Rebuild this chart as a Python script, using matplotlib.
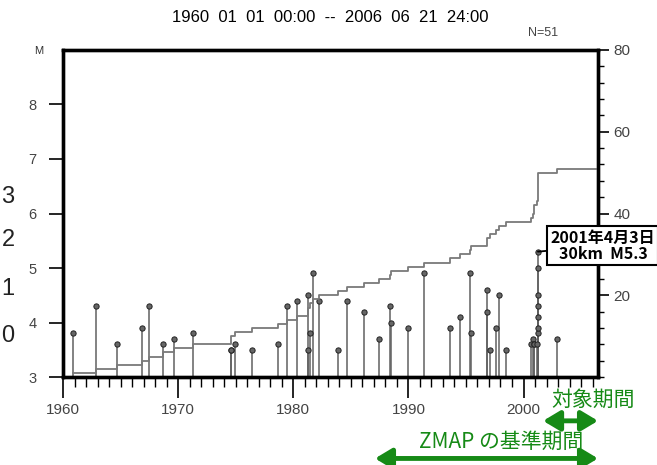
import matplotlib.pyplot as plt
from matplotlib.ticker import MultipleLocator

plt.rcParams['font.family'] = ['Liberation Sans', 'DejaVu Sans']

# event times (decimal year) and magnitudes
years = [1960.90, 1962.84, 1964.67, 1966.84, 1967.48, 1968.70, 1969.68, 1971.33,
         1974.55, 1974.60, 1974.98, 1976.43, 1978.67, 1979.45, 1980.29,
         1981.28, 1981.30, 1981.45, 1981.68, 1982.26, 1983.85, 1984.67, 1986.17,
         1987.45, 1988.43, 1988.45, 1990.00, 1991.39, 1993.60, 1994.52, 1995.39,
         1995.40, 1996.84, 1996.86, 1997.07, 1997.65, 1997.90, 1998.46,
         2000.67, 2000.84, 2000.90, 2000.92, 2001.19, 2001.24, 2001.253,
         2001.26, 2001.27, 2001.28, 2001.29, 2001.30, 2002.93]
mags = [3.8, 4.3, 3.6, 3.9, 4.3, 3.6, 3.7, 3.8,
        3.5, 3.5, 3.6, 3.5, 3.6, 4.3, 4.4,
        4.5, 3.5, 3.8, 4.9, 4.4, 3.5, 4.4, 4.2,
        3.7, 4.3, 4.0, 3.9, 4.9, 3.9, 4.1, 4.9,
        3.8, 4.6, 4.2, 3.5, 3.9, 4.5, 3.5,
        3.6, 3.7, 3.6, 3.6, 3.6, 3.8, 5.3,
        5.0, 4.5, 4.3, 4.1, 3.9, 3.7]

T_START, T_END = 1960.0, 2006.47
MAIN_T, MAIN_M = 2001.253, 5.3
TARGET_PERIOD = (2001.7, 2006.47)
ZMAP_PERIOD = (1987.1, 2006.47)

fig = plt.figure(figsize=(6.57, 4.65), dpi=100)
ax = fig.add_axes([0.0959, 0.1892, 0.8143, 0.7033])
ax2 = ax.twinx()

# stems + markers
ax.vlines(years, 3, mags, color='#606060', lw=1.1, zorder=2)
ax.plot(years, mags, 'o', ms=3.8, mfc='#666666', mec='#222222', mew=0.7, zorder=3)

# cumulative number
counts = list(range(1, len(years) + 1))
ax2.step(years + [T_END], counts + [counts[-1]], where='post', color='#7a7a7a', lw=1.3)

ax.set_xlim(T_START, T_END)
ax.set_ylim(3, 9)
ax2.set_ylim(0, 80)

ax.set_xticks(range(1960, 2001, 10))
ax.xaxis.set_minor_locator(MultipleLocator(1))
ax.set_yticks(range(3, 9))
ax2.set_yticks([20, 40, 60, 80])
ax2.yaxis.set_minor_locator(MultipleLocator(4))

ax.tick_params(axis='x', which='major', length=15, width=1.2, labelsize=11,
               labelcolor='#444444', pad=4)
ax.tick_params(axis='x', which='minor', length=7, width=1.0)
ax.tick_params(axis='y', length=10, width=1.2, labelsize=10.5, labelcolor='#444444', pad=9)
ax2.tick_params(axis='y', which='major', length=8, width=1.2, labelsize=11,
                labelcolor='#444444', pad=3)
ax2.tick_params(axis='y', which='minor', length=4, width=1.0)

for a in (ax, ax2):
    for s in a.spines.values():
        s.set_linewidth(2.4)

# label box for the main shock
ax2.annotate('2001年4月3日\n30km  M5.3', xy=(MAIN_T, MAIN_M), xycoords=ax.transData,
             xytext=(65, 6), textcoords='offset pixels', ha='center', va='center',
             fontfamily=['Noto Sans CJK JP', 'DejaVu Sans'], fontsize=11.5,
             fontweight='bold', linespacing=1.0,
             bbox=dict(boxstyle='square,pad=0.2', fc='white', ec='black', lw=1.5),
             arrowprops=dict(arrowstyle='-', color='black', lw=1.3, shrinkA=0, shrinkB=0),
             annotation_clip=False, zorder=10)

fig.text(330 / 657, 1 - 18 / 465, '1960  01  01  00:00  --  2006  06  21  24:00',
         ha='center', va='center', fontsize=12)
fig.text(543 / 657, 1 - 33 / 465, 'N=51', ha='center', va='center', fontsize=9,
         color='#444444')
fig.text(39 / 657, 1 - 51 / 465, 'M', ha='center', va='center', fontsize=8,
         color='#333333')

# cropped digits from the neighbouring panel
for d, yp in zip(['3', '2', '1', '0'], [197, 240, 289, 336]):
    fig.text(8 / 657, 1 - yp / 465, d, ha='center', va='center', fontsize=17,
             color='#222222')

# periods below the axis
green = '#168a16'
xform = ax.get_xaxis_transform()
arrow = dict(arrowstyle='<|-|>,head_length=0.5,head_width=0.3', color=green, lw=3.5,
             mutation_scale=20, shrinkA=0, shrinkB=0)
ax.annotate('', xy=(TARGET_PERIOD[1], -0.134), xytext=(TARGET_PERIOD[0], -0.134),
            xycoords=xform, textcoords=xform, arrowprops=arrow, annotation_clip=False)
ax.annotate('', xy=(ZMAP_PERIOD[1], -0.249), xytext=(ZMAP_PERIOD[0], -0.249),
            xycoords=xform, textcoords=xform, arrowprops=arrow, annotation_clip=False)
fig.text(593 / 657, 1 - 400 / 465, '対象期間', ha='center', va='center', fontsize=15,
         style='italic', color=green, family=['Noto Sans CJK JP', 'DejaVu Sans'])
fig.text(501 / 657, 1 - 442 / 465, 'ZMAP の基準期間', ha='center', va='center',
         fontsize=15, style='italic', color=green,
         family=['Noto Sans CJK JP', 'DejaVu Sans'])

fig.savefig('out.png', dpi=100)
